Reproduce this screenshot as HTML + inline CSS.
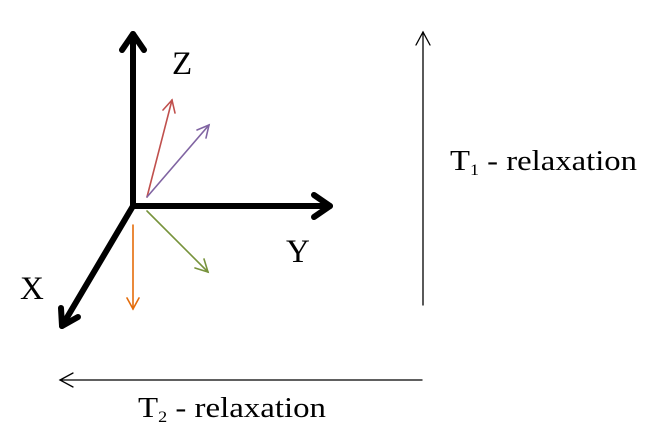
<!DOCTYPE html>
<html><head><style>body{margin:0;background:#fff}svg{display:block}</style></head><body>
<svg width="659" height="437" xmlns="http://www.w3.org/2000/svg" font-family="Liberation Serif, serif">
<g stroke="#000" stroke-width="6" fill="none" stroke-linecap="round" stroke-linejoin="round">
<line x1="133" y1="206" x2="133" y2="34"/><polyline points="122,50 133,34 144,50"/>
<line x1="133" y1="206" x2="330" y2="206"/><polyline points="314,195 330,206 314,217"/>
<line x1="133" y1="206" x2="62" y2="326"/><polyline points="61,308 62,326 78,317"/>
</g>
<g fill="none" stroke-width="1.6" stroke-linecap="round">
<g stroke="#c0504d"><line x1="147" y1="197" x2="172" y2="100"/><polyline points="163,110 172,100 175,113"/></g>
<g stroke="#8064a2"><line x1="147" y1="197" x2="209" y2="125"/><polyline points="197,130 209,125 206,138"/></g>
<g stroke="#77933c"><line x1="147" y1="211" x2="208" y2="272"/><polyline points="195,268 208,272 204,259"/></g>
<g stroke="#e46c0a"><line x1="133" y1="225" x2="133" y2="309"/><polyline points="127,298 133,309 139,298"/></g>
<g stroke="#000" stroke-width="1.3"><line x1="423" y1="305" x2="423" y2="32"/><polyline points="416,45 423,32 430,45"/>
<line x1="422" y1="380" x2="60" y2="380"/><polyline points="73,373 60,380 73,387"/></g>
</g>
<g font-size="33" fill="#000">
<text x="172" y="74">Z</text>
<text x="286" y="262">Y</text>
<text x="20" y="299">X</text>
</g>
<g font-size="29" fill="#000">
<text x="450" y="170" textLength="187" lengthAdjust="spacingAndGlyphs">T<tspan font-size="16" dy="5">1</tspan><tspan dy="-5"> - relaxation</tspan></text>
<text x="138" y="417" textLength="188" lengthAdjust="spacingAndGlyphs">T<tspan font-size="16" dy="5">2</tspan><tspan dy="-5"> - relaxation</tspan></text>
</g>
</svg>
</body></html>
